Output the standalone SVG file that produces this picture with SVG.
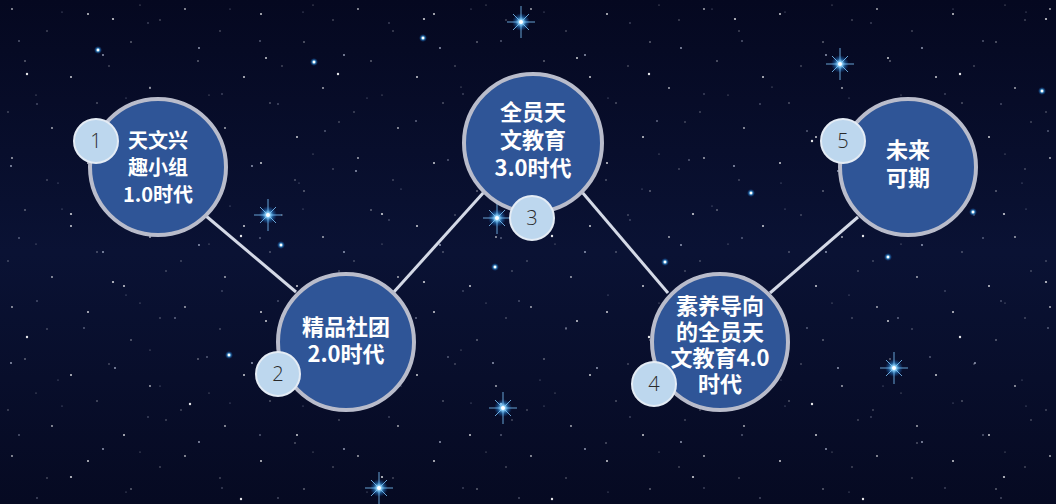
<svg xmlns="http://www.w3.org/2000/svg" width="1056" height="504" viewBox="0 0 1056 504">
<defs>
<style>
.main{fill:#2f5597;stroke:#b9bccb;stroke-width:4}
.num{fill:#bdd7ee;stroke:#e4ecf5;stroke-width:2}
.lbl{font-family:"Noto Sans CJK SC","Liberation Sans",sans-serif;font-weight:700;font-size:22px;fill:#ffffff;text-anchor:middle}
.sm{font-size:20px}
.nt{font-family:"Open Sans","Liberation Sans",sans-serif;font-weight:300;font-size:20px;fill:#2a2a2a;text-anchor:middle}
.conn{stroke:#d4d9e6;stroke-width:3;fill:none}
.spk{stroke:#7fc8ff;stroke-width:1;opacity:0.8}
</style>
<linearGradient id="bg" x1="0" y1="0" x2="0" y2="1">
<stop offset="0" stop-color="#050820"/>
<stop offset="0.5" stop-color="#0a1234"/>
<stop offset="1" stop-color="#060a22"/>
</linearGradient>
<radialGradient id="glow">
<stop offset="0" stop-color="#ffffff"/>
<stop offset="0.25" stop-color="#9fe0ff"/>
<stop offset="0.6" stop-color="#2a8fe0" stop-opacity="0.5"/>
<stop offset="1" stop-color="#1a5fc0" stop-opacity="0"/>
</radialGradient>
<pattern id="dotsA" width="173" height="149" patternUnits="userSpaceOnUse">
<g fill="#ffffff">
<circle cx="12" cy="9" r="0.9" opacity="0.7"/>
<circle cx="47" cy="31" r="0.7" opacity="0.5"/>
<circle cx="88" cy="14" r="1" opacity="0.8"/>
<circle cx="131" cy="42" r="0.8" opacity="0.6"/>
<circle cx="160" cy="20" r="0.7" opacity="0.5"/>
<circle cx="25" cy="61" r="0.8" opacity="0.6"/>
<circle cx="71" cy="77" r="1" opacity="0.8"/>
<circle cx="109" cy="66" r="0.7" opacity="0.5"/>
<circle cx="150" cy="88" r="0.9" opacity="0.7"/>
<circle cx="8" cy="112" r="0.7" opacity="0.5"/>
<circle cx="52" cy="128" r="0.9" opacity="0.7"/>
<circle cx="97" cy="103" r="0.7" opacity="0.6"/>
<circle cx="124" cy="137" r="1" opacity="0.8"/>
<circle cx="166" cy="122" r="0.7" opacity="0.5"/>
<circle cx="36" cy="95" r="0.6" opacity="0.5"/>
<circle cx="140" cy="5" r="0.6" opacity="0.5"/>
</g>
</pattern>
<pattern id="dotsB" width="241" height="197" patternUnits="userSpaceOnUse">
<g fill="#dfe8ff">
<circle cx="19" cy="41" r="0.8" opacity="0.6"/>
<circle cx="62" cy="12" r="0.6" opacity="0.5"/>
<circle cx="103" cy="55" r="0.9" opacity="0.7"/>
<circle cx="148" cy="23" r="0.7" opacity="0.5"/>
<circle cx="199" cy="48" r="0.9" opacity="0.7"/>
<circle cx="230" cy="9" r="0.6" opacity="0.5"/>
<circle cx="37" cy="104" r="0.7" opacity="0.6"/>
<circle cx="84" cy="131" r="0.8" opacity="0.6"/>
<circle cx="126" cy="98" r="0.6" opacity="0.5"/>
<circle cx="175" cy="121" r="0.8" opacity="0.7"/>
<circle cx="222" cy="94" r="0.7" opacity="0.5"/>
<circle cx="11" cy="166" r="0.9" opacity="0.7"/>
<circle cx="58" cy="183" r="0.6" opacity="0.5"/>
<circle cx="115" cy="171" r="0.9" opacity="0.7"/>
<circle cx="160" cy="189" r="0.6" opacity="0.5"/>
<circle cx="207" cy="160" r="0.8" opacity="0.6"/>
</g>
</pattern>
<pattern id="dotsC" width="311" height="263" patternUnits="userSpaceOnUse">
<g fill="#ffffff">
<circle cx="27" cy="74" r="1.2" opacity="0.9"/>
<circle cx="113" cy="19" r="1.1" opacity="0.8"/>
<circle cx="190" cy="141" r="1.2" opacity="0.9"/>
<circle cx="266" cy="58" r="1" opacity="0.8"/>
<circle cx="71" cy="214" r="1.1" opacity="0.8"/>
<circle cx="241" cy="236" r="1.2" opacity="0.9"/>
<circle cx="150" cy="87" r="0.6" opacity="0.5"/>
<circle cx="295" cy="180" r="0.7" opacity="0.6"/>
</g>
</pattern>
<g id="bigstar">
<circle r="9" fill="url(#glow)"/>
<line class="spk" x1="-14" y1="0" x2="14" y2="0"/>
<line class="spk" x1="0" y1="-16" x2="0" y2="16"/>
<line class="spk" x1="-8" y1="-8" x2="8" y2="8" opacity="0.5"/>
<line class="spk" x1="-8" y1="8" x2="8" y2="-8" opacity="0.5"/>
<circle r="2" fill="#ffffff"/>
</g>
<g id="smallstar">
<circle r="4" fill="url(#glow)"/>
<circle r="1.2" fill="#ffffff"/>
</g>
</defs>

<rect width="1056" height="504" fill="url(#bg)"/>
<rect width="1056" height="504" fill="url(#dotsA)"/>
<rect width="1056" height="504" fill="url(#dotsB)"/>
<rect width="1056" height="504" fill="url(#dotsC)"/>

<g id="stars">
<use href="#bigstar" x="521" y="22"/>
<use href="#bigstar" x="840" y="64"/>
<use href="#bigstar" x="268" y="215"/>
<use href="#bigstar" x="497" y="218"/>
<use href="#bigstar" x="894" y="368"/>
<use href="#bigstar" x="503" y="408"/>
<use href="#bigstar" x="379" y="488"/>
<use href="#smallstar" x="751" y="193"/>
<use href="#smallstar" x="281" y="245"/>
<use href="#smallstar" x="423" y="38"/>
<use href="#smallstar" x="314" y="62"/>
<use href="#smallstar" x="98" y="50"/>
<use href="#smallstar" x="1042" y="91"/>
<use href="#smallstar" x="973" y="212"/>
<use href="#smallstar" x="665" y="262"/>
<use href="#smallstar" x="888" y="257"/>
<use href="#smallstar" x="229" y="355"/>
<use href="#smallstar" x="495" y="267"/>
</g>

<g id="connectors">
<line class="conn" x1="206" y1="216" x2="296" y2="292"/>
<line class="conn" x1="393" y1="293" x2="484" y2="192"/>
<line class="conn" x1="582" y1="192" x2="668" y2="293"/>
<line class="conn" x1="770" y1="293" x2="858" y2="217"/>
</g>

<g id="node1">
<circle class="main" cx="158" cy="167" r="68"/>
<circle class="num" cx="96" cy="141" r="22"/>
<text class="nt" x="96" y="148">1</text>
<text class="lbl sm" x="158" y="148">天文兴</text>
<text class="lbl sm" x="158" y="175">趣小组</text>
<text class="lbl sm" x="158" y="202">1.0时代</text>
</g>

<g id="node2">
<circle class="main" cx="346" cy="342" r="68"/>
<circle class="num" cx="278" cy="374" r="22"/>
<text class="nt" x="278" y="381">2</text>
<text class="lbl" x="346" y="335">精品社团</text>
<text class="lbl" x="346" y="362">2.0时代</text>
</g>

<g id="node3">
<circle class="main" cx="533" cy="143" r="69"/>
<circle class="num" cx="532" cy="218" r="22"/>
<text class="nt" x="532" y="225">3</text>
<text class="lbl" x="533" y="120">全员天</text>
<text class="lbl" x="533" y="148">文教育</text>
<text class="lbl" x="533" y="176">3.0时代</text>
</g>

<g id="node4">
<circle class="main" cx="720" cy="342" r="68"/>
<circle class="num" cx="654" cy="384" r="22"/>
<text class="nt" x="654" y="391">4</text>
<text class="lbl" x="720" y="314">素养导向</text>
<text class="lbl" x="720" y="340">的全员天</text>
<text class="lbl" x="720" y="366">文教育4.0</text>
<text class="lbl" x="720" y="392">时代</text>
</g>

<g id="node5">
<circle class="main" cx="908" cy="167" r="68"/>
<circle class="num" cx="843" cy="141" r="22"/>
<text class="nt" x="843" y="148">5</text>
<text class="lbl" x="908" y="158">未来</text>
<text class="lbl" x="908" y="186">可期</text>
</g>
</svg>
